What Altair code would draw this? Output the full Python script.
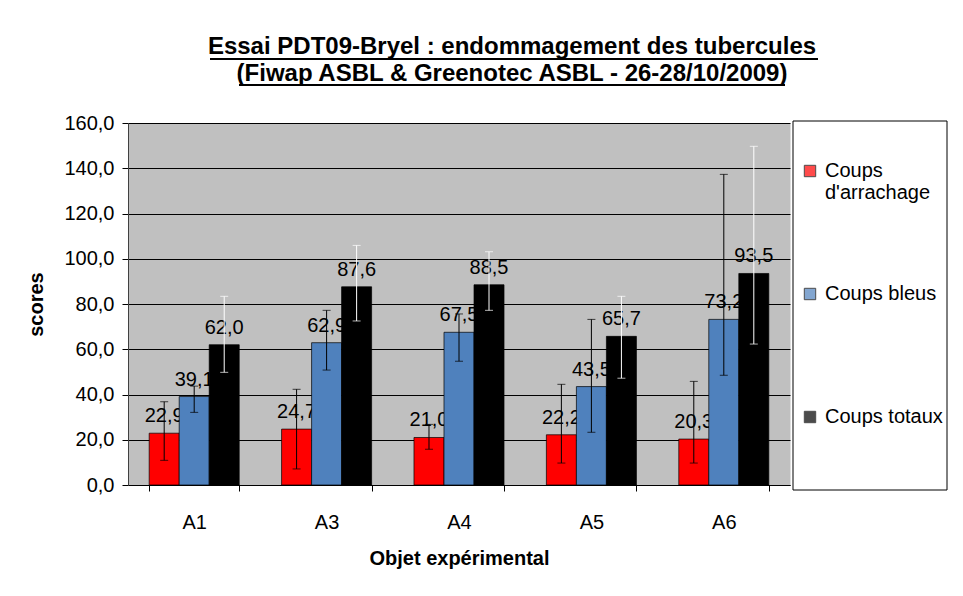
import altair as alt
import pandas as pd

categories = ["A1", "A3", "A4", "A5", "A6"]
series = ["Coups d'arrachage", "Coups bleus", "Coups totaux"]
bar_colors = ["#FF0000", "#4F81BD", "#000000"]
err_colors = ["#000000", "#000000", "#FFFFFF"]

arrachage = [22.9, 24.7, 21.0, 22.2, 20.3]
bleus = [39.1, 62.9, 67.5, 43.5, 73.2]
totaux = [62.0, 87.6, 88.5, 65.7, 93.5]

arrachage_lo = [10.9, 7.1, 15.8, 9.7, 9.7]
arrachage_hi = [36.8, 42.3, 26.8, 44.5, 45.8]
bleus_lo = [32.1, 50.8, 54.7, 23.3, 48.5]
bleus_hi = [43.7, 77.2, 75.6, 73.2, 137.3]
totaux_lo = [49.8, 72.5, 77.2, 47.2, 62.3]
totaux_hi = [83.4, 105.9, 103.1, 83.4, 149.7]

y_ticks = [0, 20, 40, 60, 80, 100, 120, 140, 160]

title_lines = ["Essai PDT09-Bryel  : endommagement des tubercules",
               "(Fiwap ASBL & Greenotec ASBL - 26-28/10/2009)"]

FONT = "Liberation Sans"

vals = [arrachage, bleus, totaux]
los = [arrachage_lo, bleus_lo, totaux_lo]
his = [arrachage_hi, bleus_hi, totaux_hi]
rows = []
for si, s in enumerate(series):
    for ci, c in enumerate(categories):
        v = vals[si][ci]
        rows.append({
            "cat": c, "series": s, "value": v,
            "lo": los[si][ci], "hi": his[si][ci],
            "label": f"{v:.1f}".replace(".", ","),
            "ecolor": err_colors[si],
        })
df = pd.DataFrame(rows)

x_axis = alt.Axis(title="Objet expérimental", labelAngle=0, labelFont=FONT,
                  labelFontSize=20, labelColor="black", labelPadding=21,
                  titleFont=FONT, titleFontSize=20, titleFontWeight="bold",
                  titleColor="black", titlePadding=16, tickBand="extent",
                  tickSize=6, tickColor="black", domainColor="black", grid=False)
y_axis = alt.Axis(title="scores", values=y_ticks,
                  labelExpr="replace(format(datum.value, '.1f'), '.', ',')",
                  labelFont=FONT, labelFontSize=20, labelColor="black",
                  labelPadding=8, titleFont=FONT, titleFontSize=20,
                  titleFontWeight="bold", titleColor="black", titlePadding=17,
                  tickSize=6, tickColor="black", domainColor="#404040",
                  grid=True, gridColor="black", gridWidth=1, gridOpacity=1)

X = alt.X("cat:N", sort=categories,
          scale=alt.Scale(domain=categories, paddingInner=0.32, paddingOuter=0.16),
          axis=x_axis)
XO = alt.XOffset("series:N", sort=series,
                 scale=alt.Scale(domain=series, paddingInner=0, paddingOuter=0))
yscale = alt.Scale(domain=[0, 160], nice=False)

legend = alt.Legend(orient="none", legendX=672, legendY=38, title=None,
                    labelFont=FONT, labelFontSize=20, labelColor="black",
                    labelLimit=300, labelOffset=5,
                    labelExpr="datum.label == \"Coups d'arrachage\" ? ['Coups', \"d'arrachage\"] : datum.label",
                    symbolType="square", symbolSize=130, symbolOpacity=1,
                    symbolStrokeColor="black", symbolStrokeWidth=1,
                    gridAlign="all", rowPadding=81)

color = alt.Color("series:N", sort=series,
                  scale=alt.Scale(domain=series, range=bar_colors), legend=legend)

base = alt.Chart(df)

layers = []
# legend box
layers.append(
    alt.Chart(alt.Data(values=[{}])).mark_rect(fill="white", stroke="black", strokeWidth=1)
    .encode(x=alt.value(665), x2=alt.value(819), y=alt.value(-2), y2=alt.value(367))
)
for s in series:
    sub = base.transform_filter(alt.datum.series == s)
    layers.append(
        sub.mark_bar(stroke="black", strokeWidth=0.7, opacity=1).encode(
            x=X, xOffset=XO,
            y=alt.Y("value:Q", scale=yscale, axis=y_axis),
            color=color,
        )
    )
    layers.append(
        sub.mark_text(baseline="bottom", dy=-7, font=FONT, fontSize=20, color="black").encode(
            x=X, xOffset=XO,
            y=alt.Y("value:Q", scale=yscale, axis=y_axis),
            text="label:N",
        )
    )

layers.append(
    base.mark_rule(strokeWidth=1).encode(
        x=X, xOffset=XO,
        y=alt.Y("lo:Q", scale=yscale, axis=y_axis), y2="hi:Q",
        color=alt.Color("ecolor:N", scale=None),
    )
)
for fld in ["lo", "hi"]:
    layers.append(
        base.mark_tick(size=8, thickness=1).encode(
            x=X, xOffset=XO,
            y=alt.Y(f"{fld}:Q", scale=yscale, axis=y_axis),
            color=alt.Color("ecolor:N", scale=None),
        )
    )

# title underlines
layers.append(
    alt.Chart(alt.Data(values=[{}])).mark_rule(color="black", strokeWidth=2)
    .encode(x=alt.value(82), x2=alt.value(690), y=alt.value(-64))
)
layers.append(
    alt.Chart(alt.Data(values=[{}])).mark_rule(color="black", strokeWidth=2)
    .encode(x=alt.value(111), x2=alt.value(657), y=alt.value(-38))
)

chart = alt.layer(*layers).properties(
    width=662, height=362,
    autosize=alt.AutoSizeParams(type="none"),
    padding={"left": 120, "top": 115, "right": 165, "bottom": 103},
    title=alt.TitleParams(text=title_lines, font=FONT, fontSize=24,
                          fontWeight="bold", color="black", anchor="middle",
                          dx=53, offset=-28, lineHeight=27),
).configure_view(fill="#C0C0C0", strokeOpacity=0)

chart.save("out.html", embed_options={"renderer": "svg", "actions": False})
